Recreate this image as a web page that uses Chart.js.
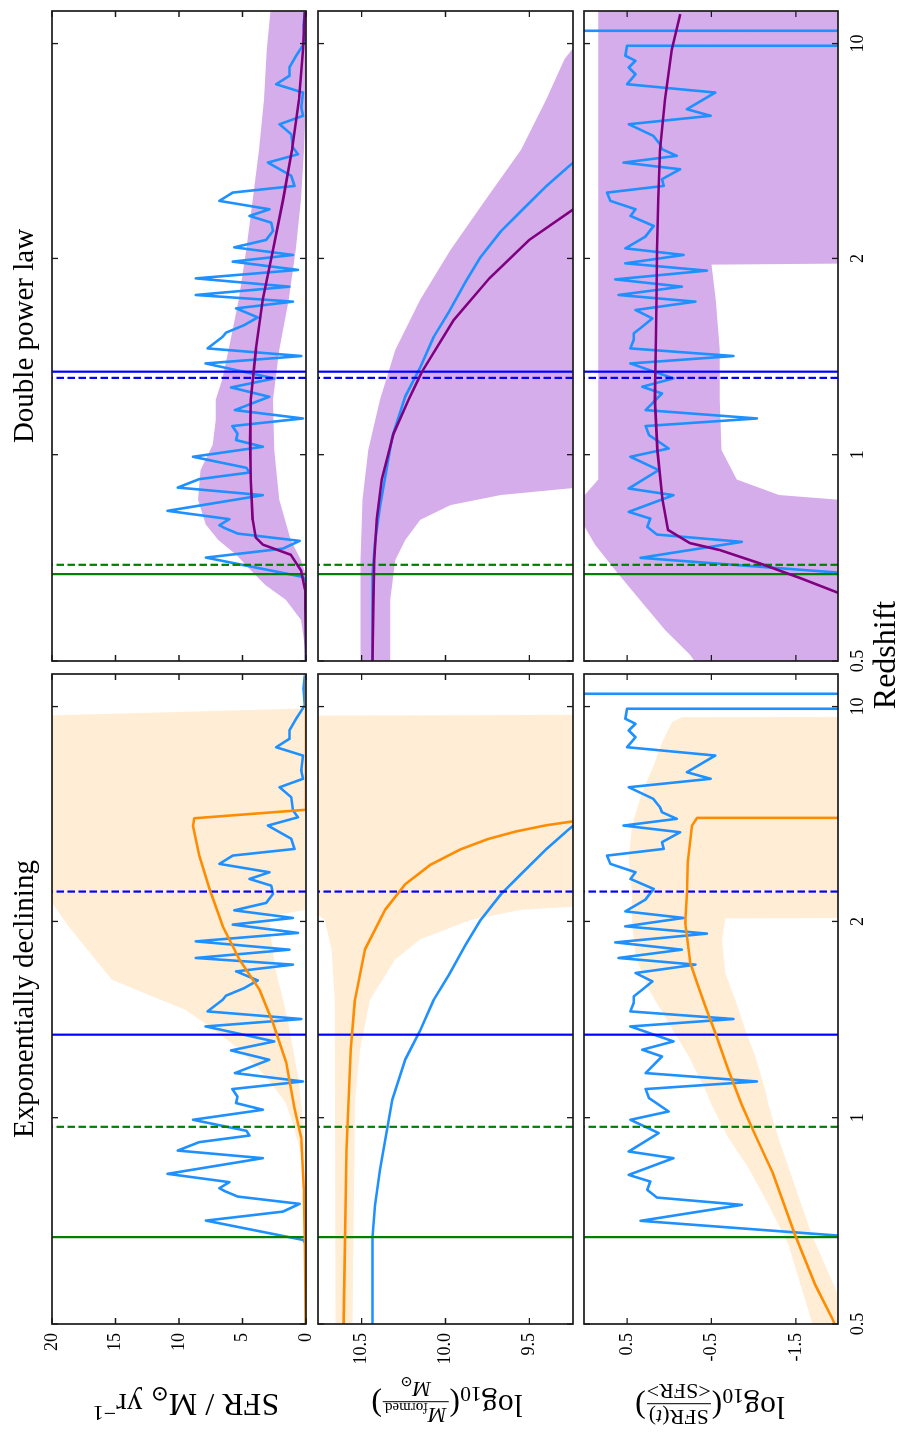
<!DOCTYPE html>
<html>
<head>
<meta charset="utf-8">
<script src="https://cdn.jsdelivr.net/npm/chart.js@4.4.1/dist/chart.umd.min.js"></script>
<style>
html, body { margin: 0; padding: 0; background: #fff; width: 904px; height: 1436px; overflow: hidden; }
#fig { position: absolute; left: 0; top: 0; width: 1436px; height: 904px; transform-origin: 0 0;
       transform: translate(0, 1436px) rotate(-90deg); background: #fff;
       font-family: "Liberation Serif", "DejaVu Serif", serif; color: #000; }
#fig canvas { position: absolute; left: 0; top: 0; }
.lbl { position: absolute; white-space: nowrap; font-size: 29px; line-height: 1; }
.ylab { position: absolute; white-space: nowrap; font-size: 32px; line-height: 1; transform: translate(-50%, -50%) rotate(-90deg); }
.lbl sub, .lbl sup, .ylab sub, .ylab sup { font-size: 0.68em; line-height: 0; }
.frac { display: inline-flex; flex-direction: column; align-items: center; vertical-align: middle; font-size: 22px; line-height: 1.1; margin: 0 1px; }
.frac .num { border-bottom: 1.4px solid #000; padding: 0 2px 1px 2px; }
</style>
</head>
<body>
<div id="fig">
  <canvas id="c0" width="1436" height="904"></canvas>
  <canvas id="c1" width="1436" height="904"></canvas>
  <canvas id="c2" width="1436" height="904"></canvas>
  <canvas id="c3" width="1436" height="904"></canvas>
  <canvas id="c4" width="1436" height="904"></canvas>
  <canvas id="c5" width="1436" height="904"></canvas>
  <div class="lbl" style="left:112px;top:9px;width:650px;text-align:center">Exponentially declining</div>
  <div class="lbl" style="left:775px;top:9px;width:650px;text-align:center">Double power law</div>
  <div class="lbl" style="left:781px;top:884px;font-size:32px;transform:translate(-50%,-50%)">Redshift</div>
  <div class="ylab" style="left:31px;top:186px">SFR / M<sub>⊙</sub> yr<sup>−1</sup></div>
  <div class="ylab" style="left:34px;top:447px">log<sub>10</sub>(<span class="frac"><span class="num"><i>M</i><sub>formed</sub></span><span><i>M</i><sub>⊙</sub></span></span>)</div>
  <div class="ylab" style="left:32px;top:710px">log<sub>10</sub>(<span class="frac"><span class="num">SFR(<i>t</i>)</span><span>&lt;SFR&gt;</span></span>)</div>
</div>
<script>
// ---- time axis: age of the universe (Gyr), labelled in redshift ----
const ageMin = 0.05, ageMax = 8.43;
const redshiftLabels = ['0.5', '1', '2', '10'];
const redshiftTickAges = [8.43, 5.77, 3.24, 0.47];

const sfrTicks = [0, 5, 10, 15, 20];
const massTicks = [9.5, 10.0, 10.5];
const ratioTicks = [0.5, -0.5, -1.5];

// ---- input star-formation history ----
const trueAge = [0.068, 0.236, 0.455, 0.627, 0.778, 0.885, 0.994, 1.101, 1.294, 1.401, 1.510, 1.639, 1.810, 1.897, 2.004, 2.175, 2.305, 2.391, 2.498, 2.606, 2.692, 2.778, 2.885, 3.001, 3.097, 3.195, 3.281, 3.388, 3.497, 3.604, 3.711, 3.797, 3.884, 4.000, 4.098, 4.197, 4.249, 4.400, 4.498, 4.594, 4.787, 4.903, 5.023, 5.195, 5.303, 5.401, 5.497, 5.582, 5.668, 5.797, 5.939, 6.000, 6.085, 6.194, 6.292, 6.494, 6.601, 6.679, 6.714, 6.787, 6.881, 6.981, 7.097, 7.346, 7.40, 8.43];
const trueSfr = [0.1, 0.2, 0.1, 0.77, 1.3, 1.3, 2.35, 0.24, 0.37, 0.24, 2.08, 1.16, 1.03, 0.63, 3.0, 1.16, 0.9, 5.77, 6.82, 2.87, 4.45, 2.74, 2.6, 3.14, 5.64, 1.03, 5.77, 0.63, 8.67, 1.3, 8.67, 1.03, 5.5, 3.8, 4.85, 6.3, 6.56, 7.75, 0.37, 7.9, 2.5, 5.9, 2.9, 5.6, 0.24, 5.8, 5.4, 5.5, 3.4, 8.9, 4.7, 4.45, 8.4, 10.1, 3.4, 10.9, 6.03, 6.82, 6.43, 5.38, 0.5, 1.82, 7.88, 0.24, 0, 0];

const trueMassAge = [0.05, 1.90, 2.08, 2.31, 2.63, 2.89, 3.22, 3.54, 3.93, 4.25, 4.64, 5.02, 5.54, 6.44, 6.90, 7.31, 8.43];
const trueMass = [8.0, 9.18, 9.28, 9.40, 9.55, 9.67, 9.79, 9.88, 9.98, 10.07, 10.15, 10.24, 10.317, 10.39, 10.42, 10.435, 10.435];

const trueRatioAge = [0.305, 0.305, 0.31, 0.498, 0.498, 0.627, 0.692, 0.778, 0.865, 0.994, 1.101, 1.316, 1.401, 1.510, 1.659, 1.768, 1.832, 1.917, 2.004, 2.090, 2.219, 2.305, 2.391, 2.498, 2.606, 2.692, 2.821, 2.959, 3.110, 3.195, 3.303, 3.397, 3.510, 3.604, 3.711, 3.797, 3.905, 4.013, 4.120, 4.206, 4.288, 4.400, 4.498, 4.594, 4.787, 4.894, 4.981, 5.195, 5.303, 5.401, 5.517, 5.690, 5.797, 5.969, 6.206, 6.292, 6.507, 6.594, 6.701, 6.800, 6.894, 7.100, 7.290, 7.32];
const trueRatio = [-5, 5, null, -5, 0.5, 0.52, 0.40, 0.48, 0.40, 0.50, -0.545, -0.21, -0.49, 0.48, 0.19, 0.11, 0.086, -0.09, 0.54, -0.13, 0.086, 0.066, 0.737, 0.697, 0.40, 0.46, 0.185, 0.283, 0.52, -0.17, 0.52, -0.447, 0.638, -0.15, 0.60, -0.31, 0.40, 0.20, 0.32, 0.42, 0.42, 0.46, -0.76, 0.46, -0.05, 0.32, 0.086, 0.28, -1.04, 0.28, 0.24, 0.007, 0.46, 0.125, 0.48, -0.05, 0.48, 0.224, 0.26, 0.145, -0.86, 0.34, -2.0, -5];

// ---- characteristic times (Gyr) ----
const trueMarkerAges = [4.70, 7.31];          // blue, green (solid)
const expMarkerAges = [2.855, 5.888];         // blue, green (dashed)
const dplMarkerAges = [4.78, 7.19];           // blue, green (dashed)

// ---- exponentially declining fit: median and 16-84% band ----
const expSfrAge = [0.05, 1.80, 1.91, 2.01, 2.39, 2.82, 3.30, 3.73, 4.12, 4.55, 5.06, 5.65, 6.03, 6.68, 7.32, 8.43];
const expSfr = [0, 0, 8.8, 8.9, 8.4, 7.6, 6.56, 5.24, 3.66, 2.6, 1.56, 0.9, 0.37, 0.18, 0.1, 0.02];
const expSfrUpAge = [0.05, 0.494, 0.584, 0.62, 2.9, 3.0, 3.303, 3.69, 3.99, 4.206, 4.378, 4.594, 4.894, 5.239, 5.578, 5.862, 6.25, 6.83, 8.43];
const expSfrUp = [0, 0, 20, 30, 30, 20, 18.7, 16.8, 15.3, 12.1, 9.5, 7.6, 5.2, 3.14, 1.6, 1.0, 0.37, 0.05, 0];
const expSfrLoAge = [0.05, 3.089, 3.174, 3.475, 3.90, 4.25, 4.546, 4.894, 5.243, 5.578, 6.18, 6.83, 8.43];
const expSfrLo = [0, 0, 2.87, 2.74, 2.35, 1.82, 1.4, 1.0, 0.63, 0.37, 0.1, 0.02, 0];

const expMassAge = [0.05, 1.80, 1.93, 1.95, 2.00, 2.08, 2.18, 2.31, 2.51, 2.76, 3.09, 3.60, 4.25, 4.89, 6.18, 8.43];
const expMass = [6, 6, 9.0, 9.24, 9.40, 9.58, 9.75, 9.91, 10.09, 10.24, 10.36, 10.48, 10.54, 10.565, 10.59, 10.607];
const expMassUpAge = [0.05, 0.57, 0.59, 3.0, 3.09, 3.22, 3.6, 4.25, 8.43];
const expMassUp = [8, 8, 11.5, 11.5, 10.8, 10.72, 10.68, 10.66, 10.655];
const expMassLoAge = [0.05, 3.02, 3.05, 3.09, 3.22, 3.47, 3.73, 4.25, 4.89, 5.54, 8.43];
const expMassLo = [8, 8, 9.24, 9.55, 9.85, 10.15, 10.3, 10.45, 10.51, 10.54, 10.555];

const expRatioAge = [1.905, 1.905, 2.004, 2.477, 2.865, 3.255, 3.772, 4.03, 4.34, 4.675, 5.152, 5.604, 5.948, 6.465, 7.28, 7.926, 8.356, 8.43];
const expRatio = [-5, -0.33, -0.27, -0.22, -0.21, -0.19, -0.25, -0.33, -0.43, -0.545, -0.70, -0.86, -1.0, -1.22, -1.49, -1.73, -1.93, -1.96];
const expRatioUpAge = [0.05, 0.60, 0.606, 0.671, 0.929, 1.230, 1.574, 2.004, 2.434, 2.865, 3.259, 3.690, 4.120, 4.550, 4.981, 5.410, 5.604, 6.034, 6.42, 6.894, 7.41, 8.40, 8.43];
const expRatioUp = [-5, -5, -0.151, -0.032, 0.086, 0.184, 0.322, 0.441, 0.48, 0.441, 0.441, 0.401, 0.244, 0.007, -0.23, -0.427, -0.50, -0.703, -0.94, -1.176, -1.413, -1.69, -1.70];
const expRatioLoAge = [0.05, 3.19, 3.20, 3.475, 3.905, 4.249, 4.636, 4.981, 5.410, 5.604, 6.034, 7.28, 8.013, 8.43];
const expRatioLo = [-5, -5, -0.664, -0.624, -0.664, -0.782, -0.90, -1.019, -1.137, -1.176, -1.295, -1.689, -1.985, -2.1];

// ---- double power law fit: median and 16-84% band ----
const dplSfrAge = [0.06, 0.55, 1.19, 1.84, 2.48, 3.13, 3.77, 4.42, 5.06, 5.58, 6.09, 6.61, 6.84, 6.93, 7.06, 7.26, 7.51, 8.35, 8.43];
const dplSfr = [0.1, 0.24, 0.55, 1.1, 1.8, 2.6, 3.4, 3.95, 4.35, 4.4, 4.35, 4.2, 3.95, 3.4, 1.2, 0.4, 0.08, 0, 0];
const dplSfrUpAge = [0.05, 0.55, 1.19, 1.84, 2.48, 3.13, 3.77, 4.42, 4.80, 5.06, 5.32, 5.64, 5.97, 6.35, 6.67, 6.87, 7.06, 7.26, 7.45, 7.64, 7.90, 8.35, 8.43];
const dplSfrUp = [2.8, 3.1, 3.3, 3.7, 4.2, 4.7, 5.3, 6.1, 6.6, 7.1, 7.1, 7.35, 8.3, 8.5, 7.9, 6.9, 5.5, 4.35, 3.2, 1.6, 0.4, 0, 0];
const dplSfrLoAge = [0.05, 1.19, 1.84, 2.48, 3.13, 3.77, 4.42, 5.06, 5.71, 6.35, 6.87, 7.13, 7.32, 8.43];
const dplSfrLo = [0, 0, 0.16, 0.4, 0.8, 1.35, 2.1, 2.6, 2.5, 2.1, 1.2, 0.4, 0, 0];

const dplMassAge = [2.3, 2.55, 2.67, 3.0, 3.5, 4.03, 4.70, 5.06, 5.5, 6.09, 6.6, 7.13, 7.64, 8.43];
const dplMass = [8.9, 9.20, 9.28, 9.50, 9.74, 9.95, 10.14, 10.22, 10.31, 10.38, 10.41, 10.425, 10.43, 10.435];
const dplMassUpAge = [0.05, 0.42, 0.67, 1.19, 1.84, 2.48, 3.13, 3.77, 4.42, 5.06, 5.71, 6.35, 7.13, 8.43];
const dplMassUp = [9.0, 9.2, 9.29, 9.40, 9.55, 9.76, 9.97, 10.15, 10.30, 10.39, 10.46, 10.495, 10.506, 10.506];
const dplMassLoAge = [0.05, 6.18, 6.20, 6.29, 6.42, 6.61, 6.87, 7.13, 7.64, 8.43];
const dplMassLo = [8.0, 8.0, 9.24, 9.67, 9.97, 10.15, 10.24, 10.30, 10.33, 10.33];

const dplRatioAge = [0.09, 0.55, 1.19, 1.84, 2.48, 3.13, 3.77, 4.42, 5.06, 5.71, 6.35, 6.74, 6.91, 7.0, 7.17, 7.36, 7.55, 7.8];
const dplRatio = [-0.13, -0.03, 0.05, 0.11, 0.13, 0.145, 0.15, 0.16, 0.17, 0.14, 0.08, 0.015, -0.245, -0.6, -1.07, -1.55, -2.0, -2.6];
const dplRatioUpAge = [0.05, 6.09, 6.35, 6.61, 6.93, 7.26, 7.64, 8.03, 8.35, 8.43];
const dplRatioUp = [0.84, 0.84, 1.05, 1.05, 0.88, 0.64, 0.35, 0.05, -0.245, -0.3];
const dplRatioLoAge = [0.05, 3.28, 3.32, 3.77, 4.42, 5.06, 5.71, 6.09, 6.29, 6.35, 6.42, 8.43];
const dplRatioLo = [-5, -5, -0.5, -0.55, -0.6, -0.6, -0.62, -0.8, -1.3, -2.0, -5, -5];

// ---- styles ----
const C_TRUE = '#1e90ff', C_EXP = '#ff8c00', C_DPL = '#800080';
const C_EXP_BAND = 'rgba(255,140,0,0.16)', C_DPL_BAND = 'rgba(153,50,204,0.4)';
const C_BLUE = '#0000ff', C_GREEN = '#008000';
const FONT = "'Liberation Serif', 'DejaVu Serif', serif";

Chart.defaults.font.family = FONT;
Chart.defaults.font.size = 17;
Chart.defaults.color = '#000';

function xy(ages, vals) { return ages.map((a, i) => ({ x: a, y: vals[i] })); }
function polygon(ua, uv, la, lv) { return xy(ua, uv).concat(xy(la, lv).reverse()); }
function lineDs(data, color, width, order, dash) {
  return { data, borderColor: color, borderWidth: width, pointRadius: 0, fill: false,
           order, borderDash: dash || [], tension: 0, spanGaps: false, borderJoinStyle: 'round' };
}
function bandDs(data, color) {
  return { data, borderColor: 'rgba(0,0,0,0)', borderWidth: 1, backgroundColor: color,
           fill: 'shape', pointRadius: 0, order: 9, tension: 0 };
}
function markers(ages, lo, hi, dashed) {
  return [
    lineDs([{ x: ages[0], y: lo }, { x: ages[0], y: hi }], C_BLUE, 2.2, 2, dashed ? [7.5, 3.5] : []),
    lineDs([{ x: ages[1], y: lo }, { x: ages[1], y: hi }], C_GREEN, 2.2, 2, dashed ? [7.5, 3.5] : [])
  ];
}

// frame and inward ticks on all four sides
const framePlugin = {
  id: 'frame',
  afterDraw(chart) {
    const { ctx, chartArea: a } = chart;
    const x = chart.scales.x, y = chart.scales.y;
    ctx.save();
    ctx.strokeStyle = '#1a1a1a';
    ctx.lineWidth = 1.3;
    const L = 6;
    ctx.beginPath();
    x.ticks.forEach(t => {
      const p = x.getPixelForValue(t.value);
      ctx.moveTo(p, a.bottom); ctx.lineTo(p, a.bottom - L);
      ctx.moveTo(p, a.top); ctx.lineTo(p, a.top + L);
    });
    y.ticks.forEach(t => {
      const p = y.getPixelForValue(t.value);
      ctx.moveTo(a.left, p); ctx.lineTo(a.left + L, p);
      ctx.moveTo(a.right, p); ctx.lineTo(a.right - L, p);
    });
    ctx.stroke();
    ctx.lineWidth = 1.7;
    ctx.strokeRect(a.left, a.top, a.right - a.left, a.bottom - a.top);
    ctx.restore();
  }
};

const COLS = [{ left: 112, right: 762 }, { left: 775, right: 1425 }];
const ROWS = [{ top: 52, bottom: 306 }, { top: 318, bottom: 573 }, { top: 584, bottom: 838 }];
const YAXES = [
  { min: 0, max: 20, ticks: sfrTicks, fmt: v => String(v) },
  { min: 9.24, max: 10.76, ticks: massTicks, fmt: v => v.toFixed(1) },
  { min: -2.0, max: 1.01, ticks: ratioTicks, fmt: v => v.toFixed(1) }
];

function panel(id, col, row, datasets) {
  const c = COLS[col], r = ROWS[row], ya = YAXES[row];
  const showY = col === 0, showX = row === 2;
  const yW = showY ? 100 : 0, xH = showX ? 40 : 0;
  new Chart(document.getElementById(id), {
    type: 'line',
    data: { datasets },
    options: {
      responsive: false, animation: false, devicePixelRatio: 1, events: [],
      layout: { padding: { left: c.left - yW, right: 1436 - c.right, top: r.top, bottom: 904 - r.bottom - xH } },
      plugins: { legend: { display: false }, tooltip: { enabled: false }, title: { display: false } },
      scales: {
        x: {
          type: 'linear', min: ageMin, max: ageMax, reverse: true, position: 'bottom',
          grid: { display: false, drawTicks: false }, border: { display: false },
          afterBuildTicks: s => { s.ticks = redshiftTickAges.map(v => ({ value: v })); },
          ticks: { display: showX, autoSkip: false, maxRotation: 0, padding: 9, font: { size: 18 },
                   callback: (v, i) => redshiftLabels[i] },
          afterFit: s => { s.height = xH; s.paddingLeft = 0; s.paddingRight = 0; }
        },
        y: {
          type: 'linear', min: ya.min, max: ya.max, position: 'left',
          grid: { display: false, drawTicks: false }, border: { display: false },
          afterBuildTicks: s => { s.ticks = ya.ticks.map(v => ({ value: v })); },
          ticks: { display: showY, autoSkip: false, padding: 9, font: { size: 18 }, callback: v => ya.fmt(v) },
          afterFit: s => { s.width = yW; s.paddingTop = 0; s.paddingBottom = 0; }
        }
      }
    },
    plugins: [framePlugin]
  });
}

// Exponentially declining column
panel('c0', 0, 0, [
  bandDs(polygon(expSfrUpAge, expSfrUp, expSfrLoAge, expSfrLo), C_EXP_BAND),
  lineDs(xy(trueAge, trueSfr), C_TRUE, 2.6, 4),
  ...markers(trueMarkerAges, 0, 20, false),
  ...markers(expMarkerAges, 0, 20, true),
  lineDs(xy(expSfrAge, expSfr), C_EXP, 2.6, 1)
]);
panel('c1', 0, 1, [
  bandDs(polygon(expMassUpAge, expMassUp, expMassLoAge, expMassLo), C_EXP_BAND),
  lineDs(xy(trueMassAge, trueMass), C_TRUE, 2.6, 4),
  ...markers(trueMarkerAges, 9.24, 10.76, false),
  ...markers(expMarkerAges, 9.24, 10.76, true),
  lineDs(xy(expMassAge, expMass), C_EXP, 2.6, 1)
]);
panel('c2', 0, 2, [
  bandDs(polygon(expRatioUpAge, expRatioUp, expRatioLoAge, expRatioLo), C_EXP_BAND),
  lineDs(xy(trueRatioAge, trueRatio), C_TRUE, 2.6, 4),
  ...markers(trueMarkerAges, -2.0, 1.01, false),
  ...markers(expMarkerAges, -2.0, 1.01, true),
  lineDs(xy(expRatioAge, expRatio), C_EXP, 2.6, 1)
]);
// Double power law column
panel('c3', 1, 0, [
  bandDs(polygon(dplSfrUpAge, dplSfrUp, dplSfrLoAge, dplSfrLo), C_DPL_BAND),
  lineDs(xy(trueAge, trueSfr), C_TRUE, 2.6, 4),
  ...markers(trueMarkerAges, 0, 20, false),
  ...markers(dplMarkerAges, 0, 20, true),
  lineDs(xy(dplSfrAge, dplSfr), C_DPL, 2.6, 1)
]);
panel('c4', 1, 1, [
  bandDs(polygon(dplMassUpAge, dplMassUp, dplMassLoAge, dplMassLo), C_DPL_BAND),
  lineDs(xy(trueMassAge, trueMass), C_TRUE, 2.6, 4),
  ...markers(trueMarkerAges, 9.24, 10.76, false),
  ...markers(dplMarkerAges, 9.24, 10.76, true),
  lineDs(xy(dplMassAge, dplMass), C_DPL, 2.6, 1)
]);
panel('c5', 1, 2, [
  bandDs(polygon(dplRatioUpAge, dplRatioUp, dplRatioLoAge, dplRatioLo), C_DPL_BAND),
  lineDs(xy(trueRatioAge, trueRatio), C_TRUE, 2.6, 4),
  ...markers(trueMarkerAges, -2.0, 1.01, false),
  ...markers(dplMarkerAges, -2.0, 1.01, true),
  lineDs(xy(dplRatioAge, dplRatio), C_DPL, 2.6, 1)
]);
</script>
</body>
</html>
